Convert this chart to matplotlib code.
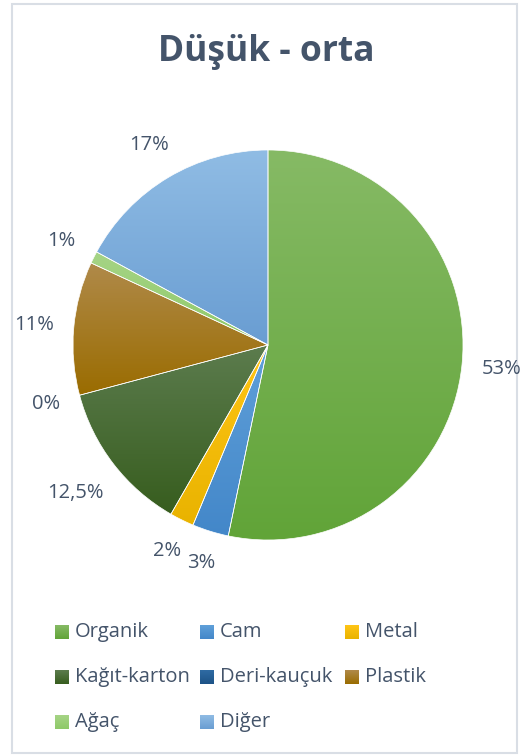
import numpy as np
import matplotlib
matplotlib.use("Agg")
import matplotlib.pyplot as plt
from matplotlib.colors import LinearSegmentedColormap
from matplotlib.patches import Rectangle

plt.rcParams["font.family"] = ["Open Sans", "DejaVu Sans"]

title = "Düşük - orta"
categories = ["Organik", "Cam", "Metal", "Kağıt-karton", "Deri-kauçuk",
              "Plastik", "Ağaç", "Diğer"]
values = [53, 3, 2, 12.5, 0, 11, 1, 17]

# gradient stops per slice: (top, bottom)
shades = [
    ("#86ba65", "#61a438"),
    ("#60a0d9", "#4387c9"),
    ("#ffc516", "#e9b300"),
    ("#5c7c4e", "#375d1e"),
    ("#2f6ba3", "#1d5387"),
    ("#b08a4a", "#9a6c00"),
    ("#a6d486", "#8ec968"),
    ("#90bce4", "#699dd2"),
]
text_col = "#44546a"

W, H = 528, 756
fig = plt.figure(figsize=(W / 100, H / 100), dpi=100)
ax = fig.add_axes([0, 0, 1, 1])

cx, cy, R = 268, H - 345, 195
wedges, _ = ax.pie(values, startangle=90, counterclock=False,
                   center=(cx, cy), radius=R,
                   wedgeprops=dict(linewidth=0.5, edgecolor="white"))

grad = np.linspace(0, 1, 256).reshape(-1, 1)
for w, (top, bot) in zip(wedges, shades):
    if w.theta2 - w.theta1 <= 0:
        w.set_visible(False)
        continue
    ext = w.get_path().get_extents(w.get_patch_transform())
    cmap = LinearSegmentedColormap.from_list("s", [bot, top])
    im = ax.imshow(grad, cmap=cmap, origin="lower", aspect="auto",
                   extent=[ext.x0, ext.x1, ext.y0, ext.y1],
                   zorder=1, interpolation="bilinear")
    im.set_clip_path(w)
    w.set_facecolor("none")
    w.set_zorder(2)

# percentage labels just outside each slice
renderer = fig.canvas.get_renderer()
gap = 19
for w, v in zip(wedges, values):
    s = f"{v:g}".replace(".", ",") + "%"
    t = ax.text(0, 0, s, ha="center", va="center", fontsize=14.5,
                color=text_col)
    bb = t.get_window_extent(renderer)
    a = np.deg2rad((w.theta1 + w.theta2) / 2)
    d = R + gap + 0.5 * (bb.width * abs(np.cos(a)) + bb.height * abs(np.sin(a)))
    t.set_position((cx + d * np.cos(a), cy + d * np.sin(a)))

ax.text(266, H - 52, title, ha="center", va="center", fontsize=25.5,
        fontweight="bold", color=text_col)

# legend, three per row, small gradient swatches
for i, (name, (top, bot)) in enumerate(zip(categories, shades)):
    row, col = divmod(i, 3)
    x = 55 + col * 145
    y = H - (632 + row * 45)
    cmap = LinearSegmentedColormap.from_list("k", [bot, top])
    ax.imshow(grad, cmap=cmap, origin="lower", aspect="auto",
              extent=[x, x + 14, y - 7, y + 7], zorder=2)
    ax.text(x + 20, y, name, ha="left", va="center", fontsize=14.5,
            color=text_col)

ax.add_patch(Rectangle((12, H - 753), 505, 749, facecolor="none",
                       edgecolor="#d9dee5", linewidth=1.5))

ax.set_xlim(0, W)
ax.set_ylim(0, H)
ax.set_aspect("auto")
ax.axis("off")

fig.savefig("out.png", dpi=100)
